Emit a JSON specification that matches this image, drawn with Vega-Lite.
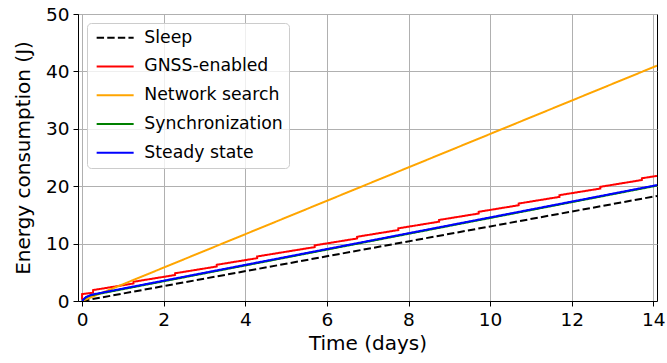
{
  "$schema": "https://vega.github.io/schema/vega-lite/v6.json",
  "width": 579,
  "height": 287,
  "autosize": {"type": "none"},
  "padding": {"left": 78, "top": 14, "right": 10, "bottom": 62},
  "background": "white",
  "config": {
    "font": "DejaVu Sans",
    "view": {"stroke": "black", "strokeWidth": 1},
    "axis": {
      "labelFont": "DejaVu Sans",
      "titleFont": "DejaVu Sans",
      "labelFontSize": 18.5,
      "titleFontSize": 20,
      "labelColor": "black",
      "titleColor": "black",
      "titleFontWeight": "normal",
      "domainColor": "black",
      "domainWidth": 1,
      "tickColor": "black",
      "tickSize": 5,
      "tickWidth": 1,
      "gridColor": "#b0b0b0",
      "gridWidth": 1,
      "labelPadding": 4
    },
    "legend": {
      "labelFont": "DejaVu Sans",
      "labelFontSize": 17.3,
      "labelColor": "black"
    }
  },
  "data": {
    "values": [
      {"series": "Sleep", "i": 0, "t": 0, "e": 0},
      {"series": "Sleep", "i": 1, "t": 14.09, "e": 18.3},
      {"series": "GNSS-enabled", "i": 0, "t": 0, "e": 0.2},
      {"series": "GNSS-enabled", "i": 1, "t": 0, "e": 1.2},
      {"series": "GNSS-enabled", "i": 2, "t": 0.27, "e": 1.45},
      {"series": "GNSS-enabled", "i": 3, "t": 0.27, "e": 1.9},
      {"series": "GNSS-enabled", "i": 4, "t": 1.26, "e": 3.05},
      {"series": "GNSS-enabled", "i": 5, "t": 1.26, "e": 3.35},
      {"series": "GNSS-enabled", "i": 6, "t": 2.28, "e": 4.53},
      {"series": "GNSS-enabled", "i": 7, "t": 2.28, "e": 4.83},
      {"series": "GNSS-enabled", "i": 8, "t": 3.3, "e": 6.01},
      {"series": "GNSS-enabled", "i": 9, "t": 3.3, "e": 6.31},
      {"series": "GNSS-enabled", "i": 10, "t": 4.29, "e": 7.46},
      {"series": "GNSS-enabled", "i": 11, "t": 4.29, "e": 7.76},
      {"series": "GNSS-enabled", "i": 12, "t": 5.7, "e": 9.39},
      {"series": "GNSS-enabled", "i": 13, "t": 5.7, "e": 9.69},
      {"series": "GNSS-enabled", "i": 14, "t": 6.74, "e": 10.89},
      {"series": "GNSS-enabled", "i": 15, "t": 6.74, "e": 11.19},
      {"series": "GNSS-enabled", "i": 16, "t": 7.75, "e": 12.36},
      {"series": "GNSS-enabled", "i": 17, "t": 7.75, "e": 12.66},
      {"series": "GNSS-enabled", "i": 18, "t": 8.75, "e": 13.82},
      {"series": "GNSS-enabled", "i": 19, "t": 8.75, "e": 14.12},
      {"series": "GNSS-enabled", "i": 20, "t": 9.72, "e": 15.24},
      {"series": "GNSS-enabled", "i": 21, "t": 9.72, "e": 15.54},
      {"series": "GNSS-enabled", "i": 22, "t": 10.7, "e": 16.68},
      {"series": "GNSS-enabled", "i": 23, "t": 10.7, "e": 16.98},
      {"series": "GNSS-enabled", "i": 24, "t": 11.7, "e": 18.14},
      {"series": "GNSS-enabled", "i": 25, "t": 11.7, "e": 18.44},
      {"series": "GNSS-enabled", "i": 26, "t": 12.7, "e": 19.59},
      {"series": "GNSS-enabled", "i": 27, "t": 12.7, "e": 19.89},
      {"series": "GNSS-enabled", "i": 28, "t": 13.72, "e": 21.08},
      {"series": "GNSS-enabled", "i": 29, "t": 13.72, "e": 21.38},
      {"series": "GNSS-enabled", "i": 30, "t": 14.09, "e": 21.8},
      {"series": "Network search", "i": 0, "t": 0, "e": 0},
      {"series": "Network search", "i": 1, "t": 14.09, "e": 41.0},
      {"series": "Synchronization", "i": 0, "t": 0, "e": 0},
      {"series": "Synchronization", "i": 1, "t": 0.05, "e": 0.35},
      {"series": "Synchronization", "i": 2, "t": 0.1, "e": 0.65},
      {"series": "Synchronization", "i": 3, "t": 0.2, "e": 0.95},
      {"series": "Synchronization", "i": 4, "t": 0.3, "e": 1.1},
      {"series": "Synchronization", "i": 5, "t": 14.09, "e": 20.1},
      {"series": "Steady state", "i": 0, "t": 0, "e": 0},
      {"series": "Steady state", "i": 1, "t": 0.05, "e": 0.4},
      {"series": "Steady state", "i": 2, "t": 0.1, "e": 0.7},
      {"series": "Steady state", "i": 3, "t": 0.2, "e": 1.0},
      {"series": "Steady state", "i": 4, "t": 0.3, "e": 1.2},
      {"series": "Steady state", "i": 5, "t": 14.09, "e": 20.2}
    ]
  },
  "mark": {"type": "line", "strokeWidth": 2, "clip": true},
  "encoding": {
    "x": {
      "field": "t",
      "type": "quantitative",
      "scale": {"domain": [-0.1, 14.09], "nice": false, "zero": false},
      "axis": {"values": [0, 2, 4, 6, 8, 10, 12, 14], "title": "Time (days)", "titlePadding": 5, "labelFlush": false}
    },
    "y": {
      "field": "e",
      "type": "quantitative",
      "scale": {"domain": [0, 50], "nice": false},
      "axis": {"values": [0, 10, 20, 30, 40, 50], "title": "Energy consumption (J)", "titlePadding": 12, "labelFlush": false}
    },
    "order": {"field": "i", "type": "quantitative"},
    "color": {
      "field": "series",
      "type": "nominal",
      "sort": ["Sleep", "GNSS-enabled", "Network search", "Synchronization", "Steady state"],
      "scale": {
        "domain": ["Sleep", "GNSS-enabled", "Network search", "Synchronization", "Steady state"],
        "range": ["#000000", "#ff0000", "#ffa500", "#008000", "#0000ff"]
      },
      "legend": {
        "title": null,
        "orient": "none",
        "legendX": 9,
        "legendY": 9,
        "padding": 6,
        "fillColor": "rgba(255,255,255,0.8)",
        "strokeColor": "#cccccc",
        "cornerRadius": 4,
        "symbolType": "M-1,0H6.4",
        "symbolSize": 100,
        "symbolStrokeWidth": 2,
        "labelOffset": 34,
        "rowPadding": 10.8,
        "labelLimit": 300
      }
    },
    "strokeDash": {
      "field": "series",
      "type": "nominal",
      "sort": ["Sleep", "GNSS-enabled", "Network search", "Synchronization", "Steady state"],
      "scale": {
        "domain": ["Sleep", "GNSS-enabled", "Network search", "Synchronization", "Steady state"],
        "range": [[7.4, 3.2], [1, 0], [1, 0], [1, 0], [1, 0]]
      },
      "legend": {
        "title": null,
        "orient": "none",
        "legendX": 9,
        "legendY": 9,
        "padding": 6,
        "fillColor": "rgba(255,255,255,0.8)",
        "strokeColor": "#cccccc",
        "cornerRadius": 4,
        "symbolType": "M-1,0H6.4",
        "symbolSize": 100,
        "symbolStrokeWidth": 2,
        "labelOffset": 34,
        "rowPadding": 10.8,
        "labelLimit": 300
      }
    }
  }
}
